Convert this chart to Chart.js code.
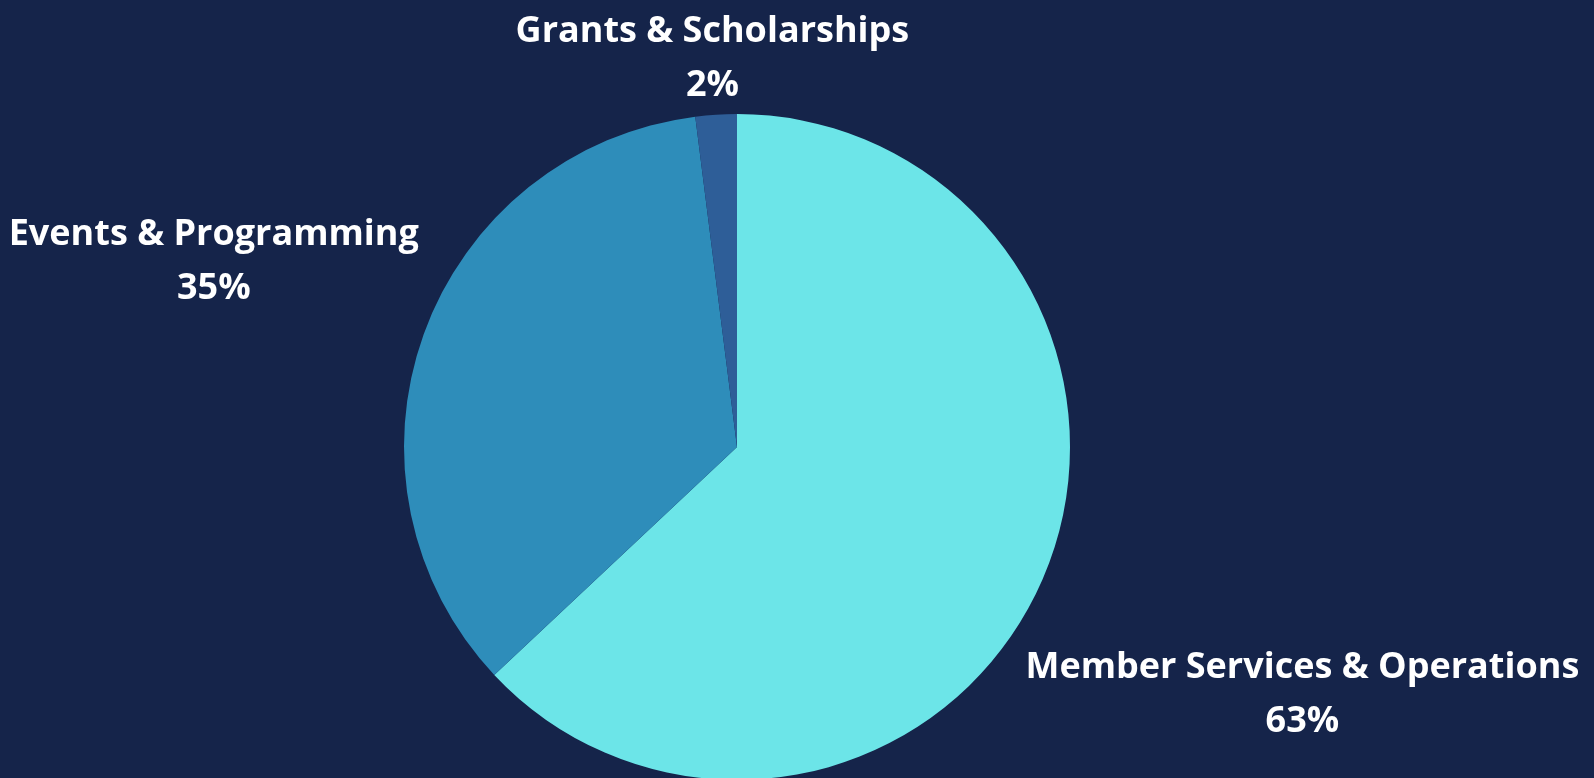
<!DOCTYPE html>
<html>
<head>
<meta charset="utf-8">
<script src="https://cdn.jsdelivr.net/npm/chart.js@4/dist/chart.umd.min.js"></script>
<style>
  html, body { margin: 0; padding: 0; background: #15244a; overflow: hidden; }
  #wrap { position: relative; width: 1594px; height: 780px; }
</style>
</head>
<body>
<div id="wrap"><canvas id="budgetChart"></canvas></div>
<script>
// Datos del gráfico
const categories = ['Member Services & Operations', 'Events & Programming', 'Grants & Scholarships'];
const shares = [63, 35, 2];
const sliceColors = ['#6ce5e8', '#2e8dba', '#2e5e98'];

// Distancia de cada etiqueta al centro (en radios)
const labelDistance = [1.85, 1.67, 1.177];

const outsideLabels = {
    id: 'outsideLabels',
    afterDraw(chart) {
        const ctx = chart.ctx;
        const total = shares.reduce((a, b) => a + b, 0);
        const arcs = chart.getDatasetMeta(0).data;
        ctx.save();
        ctx.fillStyle = '#ffffff';
        ctx.textAlign = 'center';
        ctx.textBaseline = 'alphabetic';
        ctx.font = 'bold 36px "Open Sans"';
        arcs.forEach((arc, i) => {
            const mid = (arc.startAngle + arc.endAngle) / 2;
            const d = arc.outerRadius * labelDistance[i];
            const x = arc.x + Math.cos(mid) * d;
            const y = arc.y + Math.sin(mid) * d;
            const pct = Math.round(shares[i] / total * 100) + '%';
            ctx.fillText(categories[i], x, y - 14);
            ctx.fillText(pct, x, y + 40);
        });
        ctx.restore();
    }
};

new Chart(document.getElementById('budgetChart'), {
    type: 'pie',
    data: {
        labels: categories,
        datasets: [{
            data: shares,
            backgroundColor: sliceColors,
            borderWidth: 0
        }]
    },
    options: {
        responsive: true,
        maintainAspectRatio: false,
        animation: false,
        layout: { padding: { top: 114, bottom: 0, left: 0, right: 120 } },
        plugins: {
            legend: { display: false },
            tooltip: { enabled: false }
        }
    },
    plugins: [outsideLabels]
});
</script>
</body>
</html>
